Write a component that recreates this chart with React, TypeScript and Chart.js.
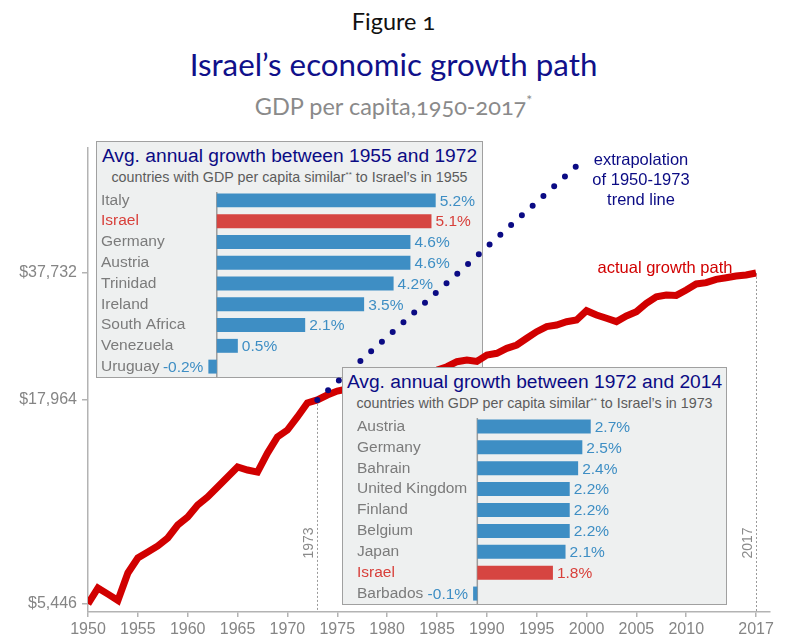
import React, { useEffect, useRef } from 'react';
import { Chart, registerables } from 'chart.js';

Chart.register(...registerables);

// ---------- DATA ----------
const START_YEAR = 1950;
// Israel GDP per capita (USD), 1950-2017
const gdpPerCapita = [
  5446, 5981, 5770, 5560, 6530, 7128, 7380, 7645, 8011, 8643, // 1950-59
  9062, 9715, 10184, 10795, 11443, 12134, 11923, 11780, 13164, 14465, // 1960-69
  15063, 16256, 17640, 17964, 18488, 18920, 19148, 19259, 19485, 19830, // 1970-79
  20063, 20418, 20537, 20776, 21021, 21392, 21811, 22459, 22683, 22500, // 1980-89
  23358, 23591, 24290, 24768, 25759, 26772, 27567, 27840, 28384, 28668, // 1990-99
  30263, 29518, 28951, 28400, 29343, 30084, 31603, 32845, 33182, 33100, // 2000-09
  34163, 35383, 35655, 36363, 36706, 37066, 37300, 37732, // 2010-17
];
const years = gdpPerCapita.map((_, i) => START_YEAR + i);

// extrapolated 1950-1973 trend line (endpoints)
const trendYears = [1973, 1999];
const trendValues = [17964, 70530];

const yTickValues = [5446, 17964, 37732];
const xTickValues = [1950, 1955, 1960, 1965, 1970, 1975, 1980, 1985, 1990, 1995, 2000, 2005, 2010, 2017];
const markedYears = [1973, 2017];

const inset1Countries = ['Italy', 'Israel', 'Germany', 'Austria', 'Trinidad', 'Ireland', 'South Africa', 'Venezuela', 'Uruguay'];
const inset1Growth = [5.2, 5.1, 4.6, 4.6, 4.2, 3.5, 2.1, 0.5, -0.2];
const inset2Countries = ['Austria', 'Germany', 'Bahrain', 'United Kingdom', 'Finland', 'Belgium', 'Japan', 'Israel', 'Barbados'];
const inset2Growth = [2.7, 2.5, 2.4, 2.2, 2.2, 2.2, 2.1, 1.8, -0.1];

// ---------- STYLE ----------
const ARIAL = '"Liberation Sans", Arial, Helvetica, sans-serif';
const HUMANIST = 'Lato, "Open Sans", sans-serif';
const RED_LINE = '#d10000';
const NAVY = '#0b0b84';
const AXIS = '#b3b3b3';
const TICK_TXT = '#858585';
const BLUE_BAR = '#3e8ec4';
const RED_BAR = '#d64541';
const BLUE_TXT = '#3e8ec4';
const RED_TXT = '#d8403b';
const GRAY_TXT = '#7b7b7b';

const mainDecor = {
  id: 'mainDecor',
  beforeDatasetsDraw(chart: any) {
    const { ctx, chartArea, scales } = chart;
    const xs = scales.x;
    const ys = scales.y;
    ctx.save();
    markedYears.forEach((yr) => {
      const v = gdpPerCapita[yr - START_YEAR];
      const px = Math.round(xs.getPixelForValue(yr)) + 0.5;
      ctx.strokeStyle = '#9a9a9a';
      ctx.lineWidth = 1;
      ctx.setLineDash([2, 2]);
      ctx.beginPath();
      ctx.moveTo(px, ys.getPixelForValue(v));
      ctx.lineTo(px, chartArea.bottom);
      ctx.stroke();
      ctx.setLineDash([]);
      ctx.save();
      ctx.translate(px - 8.5, 543);
      ctx.rotate(-Math.PI / 2);
      ctx.fillStyle = '#8a8a8a';
      ctx.font = `14px ${ARIAL}`;
      ctx.textAlign = 'center';
      ctx.textBaseline = 'middle';
      ctx.fillText(String(yr), 0, 0);
      ctx.restore();
    });
    ctx.restore();
  },
  afterDatasetsDraw(chart: any) {
    const { ctx } = chart;
    ctx.save();
    ctx.font = `16.5px ${ARIAL}`;
    ctx.textAlign = 'center';
    ctx.textBaseline = 'middle';
    ctx.fillStyle = NAVY;
    ctx.fillText('extrapolation', 641, 160);
    ctx.fillText('of 1950-1973', 641, 180);
    ctx.fillText('trend line', 641, 200.5);
    ctx.fillStyle = RED_LINE;
    ctx.fillText('actual growth path', 665, 268);
    ctx.restore();
  },
};

function makeMain(canvas: HTMLCanvasElement) {
  return new Chart(canvas, {
    type: 'line',
    data: {
      datasets: [
        {
          label: 'trend',
          data: trendYears.map((yr, i) => ({ x: yr, y: trendValues[i] })),
          borderColor: NAVY,
          borderWidth: 6,
          borderDash: [0, 14.5],
          borderCapStyle: 'round',
          pointRadius: 0,
          fill: false,
        },
        {
          label: 'actual',
          data: years.map((yr, i) => ({ x: yr, y: gdpPerCapita[i] })),
          borderColor: RED_LINE,
          borderWidth: 7,
          pointRadius: 0,
          fill: false,
          tension: 0,
        },
      ],
    } as any,
    options: {
      animation: false,
      responsive: false,
      maintainAspectRatio: false,
      layout: { padding: { left: 0, right: 17, top: 148, bottom: 0 } },
      plugins: { legend: { display: false }, tooltip: { enabled: false }, title: { display: false } },
      scales: {
        x: {
          type: 'linear',
          min: 1950,
          max: 2018.4,
          afterBuildTicks: (s: any) => {
            s.ticks = xTickValues.map((v) => ({ value: v }));
          },
          afterFit: (s: any) => {
            s.height = 24;
            s.paddingLeft = 0;
            s.paddingRight = 0;
          },
          grid: { display: true, drawOnChartArea: false, drawTicks: true, tickLength: 5, color: AXIS, lineWidth: 1.5 },
          border: { display: true, color: AXIS, width: 1.5 },
          ticks: {
            color: TICK_TXT,
            font: { family: ARIAL, size: 16 },
            padding: 3,
            maxRotation: 0,
            autoSkip: false,
            callback: (v: any) => String(v),
          },
        },
        y: {
          type: 'logarithmic',
          min: 5197,
          max: 78370,
          afterBuildTicks: (s: any) => {
            s.ticks = yTickValues.map((v) => ({ value: v }));
          },
          afterFit: (s: any) => {
            s.width = 88;
            s.paddingTop = 0;
            s.paddingBottom = 0;
          },
          grid: { display: true, drawOnChartArea: false, drawTicks: true, tickLength: 6, color: AXIS, lineWidth: 1.5 },
          border: { display: true, color: AXIS, width: 1.5 },
          ticks: {
            color: TICK_TXT,
            font: { family: ARIAL, size: 16 },
            padding: 5,
            autoSkip: false,
            callback: (v: any) => '$' + Number(v).toLocaleString('en-US'),
          },
        },
      },
    } as any,
    plugins: [mainDecor],
  });
}

const insetDecor = {
  id: 'insetDecor',
  beforeDatasetsDraw(chart: any) {
    const { ctx, chartArea, scales } = chart;
    const px = scales.x.getPixelForValue(0);
    ctx.save();
    ctx.strokeStyle = '#9c9c9c';
    ctx.lineWidth = 1.5;
    ctx.beginPath();
    ctx.moveTo(px, chartArea.top + 2);
    ctx.lineTo(px, chartArea.bottom);
    ctx.stroke();
    ctx.restore();
  },
  afterDatasetsDraw(chart: any) {
    const { ctx } = chart;
    const meta = chart.getDatasetMeta(0);
    const values = chart.data.datasets[0].data as number[];
    const labels = chart.data.labels as string[];
    ctx.save();
    ctx.font = `15.5px ${ARIAL}`;
    ctx.textBaseline = 'middle';
    meta.data.forEach((bar: any, i: number) => {
      const v = values[i];
      ctx.fillStyle = labels[i] === 'Israel' ? RED_TXT : BLUE_TXT;
      const txt = v.toFixed(1) + '%';
      if (v >= 0) {
        ctx.textAlign = 'left';
        ctx.fillText(txt, bar.x + 4, bar.y + 1);
      } else {
        ctx.textAlign = 'right';
        ctx.fillText(txt, bar.x - 5, bar.y + 1);
      }
    });
    ctx.restore();
  },
};

function makeInset(
  canvas: HTMLCanvasElement,
  labels: string[],
  values: number[],
  padLeft: number,
  axisWidth: number,
  min: number,
  max: number
) {
  return new Chart(canvas, {
    type: 'bar',
    data: {
      labels,
      datasets: [
        {
          data: values,
          backgroundColor: labels.map((l) => (l === 'Israel' ? RED_BAR : BLUE_BAR)),
          barPercentage: 0.67,
          categoryPercentage: 1,
          borderWidth: 0,
        },
      ],
    },
    options: {
      indexAxis: 'y',
      animation: false,
      responsive: false,
      maintainAspectRatio: false,
      layout: { padding: { left: padLeft, right: 0, top: 0, bottom: 0 } },
      plugins: { legend: { display: false }, tooltip: { enabled: false } },
      scales: {
        x: { type: 'linear', min, max, display: false },
        y: {
          type: 'category',
          grid: { display: false },
          border: { display: false },
          afterFit: (s: any) => {
            s.width = axisWidth;
            s.paddingTop = 0;
            s.paddingBottom = 0;
          },
          ticks: {
            crossAlign: 'far',
            padding: 0,
            autoSkip: false,
            color: (c: any) => (labels[c.index] === 'Israel' ? RED_TXT : GRAY_TXT),
            font: { family: ARIAL, size: 15.5 },
          },
        },
      },
    } as any,
    plugins: [insetDecor],
  });
}

type Rect = { left: number; top: number; width: number; height: number };

function InsetBox(props: {
  rect: Rect;
  z: number;
  title: string;
  year: string;
  canvasTop: number;
  canvasHeight: number;
  canvasRef: React.RefObject<HTMLCanvasElement | null>;
}) {
  const { rect, z, title, year, canvasTop, canvasHeight, canvasRef } = props;
  const innerW = rect.width - 2;
  return (
    <div
      style={{
        position: 'absolute',
        left: rect.left,
        top: rect.top,
        width: rect.width,
        height: rect.height,
        boxSizing: 'border-box',
        border: '1px solid #a0a0a0',
        background: '#eef0f0',
        zIndex: z,
      }}
    >
      <div
        style={{
          position: 'absolute',
          left: 0,
          top: 3,
          width: innerW,
          textAlign: 'center',
          whiteSpace: 'nowrap',
          fontFamily: ARIAL,
          fontSize: 19.2,
          lineHeight: '22px',
          color: NAVY,
        }}
      >
        {title}
      </div>
      <div
        style={{
          position: 'absolute',
          left: 0,
          top: 27,
          width: innerW,
          textAlign: 'center',
          whiteSpace: 'nowrap',
          fontFamily: ARIAL,
          fontSize: 14.3,
          lineHeight: '17px',
          color: '#5c5c5c',
        }}
      >
        countries with GDP per capita similar
        <span style={{ fontSize: 8, position: 'relative', top: -5 }}>**</span> to Israel’s in {year}
      </div>
      <canvas
        ref={canvasRef}
        width={innerW}
        height={canvasHeight}
        style={{ position: 'absolute', left: 0, top: canvasTop - rect.top - 1 }}
      />
    </div>
  );
}

export default function App() {
  const mainRef = useRef<HTMLCanvasElement>(null);
  const in1Ref = useRef<HTMLCanvasElement>(null);
  const in2Ref = useRef<HTMLCanvasElement>(null);

  useEffect(() => {
    const charts = [
      makeMain(mainRef.current!),
      makeInset(in1Ref.current!, inset1Countries, inset1Growth, 4, 96, -0.47, 6.3),
      makeInset(in2Ref.current!, inset2Countries, inset2Growth, 14, 113, -0.174, 5.92),
    ];
    return () => charts.forEach((c) => c.destroy());
  }, []);

  const box1: Rect = { left: 96, top: 141, width: 387, height: 237 };
  const box2: Rect = { left: 342, top: 367, width: 385, height: 238 };

  return (
    <div
      style={{
        position: 'absolute',
        left: 0,
        top: 0,
        width: 787,
        height: 636,
        background: '#ffffff',
        overflow: 'hidden',
      }}
    >
      <div
        style={{
          position: 'absolute',
          left: 0,
          top: 7,
          width: 787,
          textAlign: 'center',
          fontFamily: HUMANIST,
          fontSize: 23.5,
          lineHeight: '28px',
          color: '#111',
          fontVariantNumeric: 'oldstyle-nums',
        }}
      >
        Figure 1
      </div>
      <div
        style={{
          position: 'absolute',
          left: 0,
          top: 46,
          width: 787,
          textAlign: 'center',
          fontFamily: HUMANIST,
          fontSize: 31.3,
          lineHeight: '37px',
          color: '#10108a',
        }}
      >
        Israel’s economic growth path
      </div>
      <div
        style={{
          position: 'absolute',
          left: 0,
          top: 92,
          width: 787,
          textAlign: 'center',
          fontFamily: HUMANIST,
          fontSize: 23.5,
          lineHeight: '28px',
          color: '#8a8a8a',
          fontVariantNumeric: 'oldstyle-nums',
        }}
      >
        GDP per capita,1950-2017<span style={{ fontSize: 14, position: 'relative', top: -10 }}>*</span>
      </div>

      <InsetBox
        rect={box1}
        z={1}
        title="Avg. annual growth between 1955 and 1972"
        year="1955"
        canvasTop={190}
        canvasHeight={187}
        canvasRef={in1Ref}
      />
      <canvas
        ref={mainRef}
        width={787}
        height={636}
        style={{ position: 'absolute', left: 0, top: 0, zIndex: 2 }}
      />
      <InsetBox
        rect={box2}
        z={3}
        title="Avg. annual growth between 1972 and 2014"
        year="1973"
        canvasTop={416}
        canvasHeight={188}
        canvasRef={in2Ref}
      />
    </div>
  );
}
